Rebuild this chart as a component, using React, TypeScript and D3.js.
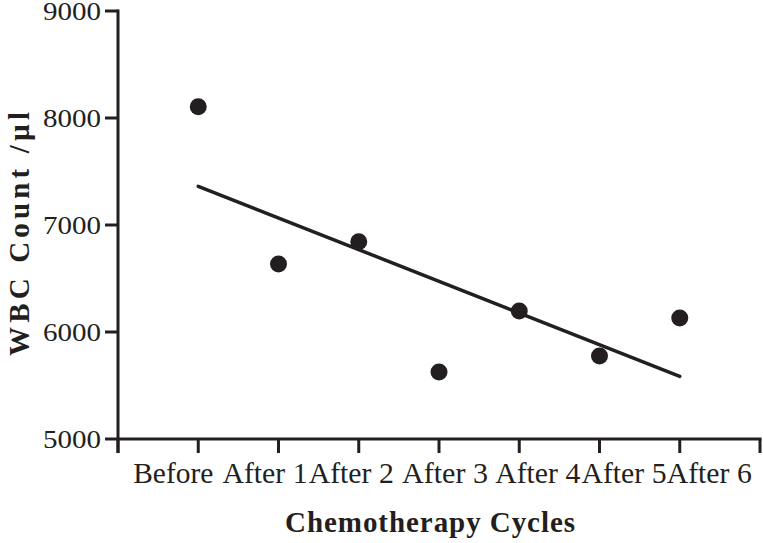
import React from "react";
import * as d3 from "d3";

const categories = ["Before", "After 1", "After 2", "After 3", "After 4", "After 5", "After 6"];
const wbcValues = [8106, 6636, 6844, 5626, 6196, 5776, 6131];
const yTicks = [5000, 6000, 7000, 8000, 9000];

// layout: label start offset from its tick, and label widths (as in the reference)
const labelOffsets = [-65, -56, -50, -37, -24, -18, -13];
const labelWidths = [80, 85, 85, 86, 85, 85, 85];

const W = 763;
const H = 543;

export default function App() {
  const x = d3.scaleLinear().domain([-1, 7]).range([118, 760]);
  const y = d3.scaleLinear().domain([5000, 9000]).range([439, 11]);

  const xs = categories.map((_, i) => i);
  const mx = d3.mean(xs) as number;
  const my = d3.mean(wbcValues) as number;
  const sxy = d3.sum(xs.map((v, i) => (v - mx) * (wbcValues[i] - my)));
  const sxx = d3.sum(xs.map((v) => (v - mx) * (v - mx)));
  const slope = sxy / sxx;
  const intercept = my - slope * mx;
  const fitPts: [number, number][] = [0, categories.length - 1].map((v) => [x(v), y(intercept + slope * v)]);
  const line = d3.line();

  const font = "'Liberation Serif', 'Times New Roman', Times, serif";
  const xTickPositions = d3.range(-1, 8);
  const ink = "#231f20";

  return (
    <svg width={W} height={H} style={{ position: "absolute", left: 0, top: 0, background: "#fff" }}>
      {/* y axis */}
      <line x1={118} x2={118} y1={y(9000) - 1.5} y2={y(5000) + 14} stroke={ink} strokeWidth={3} />
      {yTicks.map((t) => (
        <g key={t}>
          <line x1={105} x2={118} y1={y(t)} y2={y(t)} stroke={ink} strokeWidth={3} />
          <text
            x={101}
            y={y(t) + 9}
            textAnchor="end"
            fontFamily={font}
            fontSize={25}
            fill={ink}
            textLength={58}
            lengthAdjust="spacingAndGlyphs"
          >
            {t}
          </text>
        </g>
      ))}
      {/* x axis */}
      <line x1={118} x2={x(7) + 1.5} y1={y(5000)} y2={y(5000)} stroke={ink} strokeWidth={3} />
      {xTickPositions.map((v) => (
        <line key={v} x1={x(v)} x2={x(v)} y1={y(5000)} y2={y(5000) + 14} stroke={ink} strokeWidth={3} />
      ))}
      {categories.map((c, i) => (
        <text
          key={c}
          x={x(i) + labelOffsets[i]}
          y={483}
          textAnchor="start"
          fontFamily={font}
          fontSize={30}
          fill={ink}
          textLength={labelWidths[i]}
          lengthAdjust="spacingAndGlyphs"
        >
          {c}
        </text>
      ))}
      {/* fit line */}
      <path d={line(fitPts) || ""} stroke={ink} strokeWidth={3.5} fill="none" strokeLinecap="round" />
      {/* points */}
      {wbcValues.map((v, i) => (
        <circle key={i} cx={x(i)} cy={y(v)} r={8.5} fill={ink} />
      ))}
      {/* axis titles */}
      <text
        x={430}
        y={532}
        textAnchor="middle"
        fontFamily={font}
        fontWeight="bold"
        fontSize={29}
        fill={ink}
        textLength={290}
        lengthAdjust="spacing"
      >
        Chemotherapy Cycles
      </text>
      <text
        transform={`translate(29,234) rotate(-90)`}
        textAnchor="middle"
        fontFamily={font}
        fontWeight="bold"
        fontSize={29}
        fill={ink}
        textLength={244}
        lengthAdjust="spacing"
      >
        WBC Count /µl
      </text>
    </svg>
  );
}
